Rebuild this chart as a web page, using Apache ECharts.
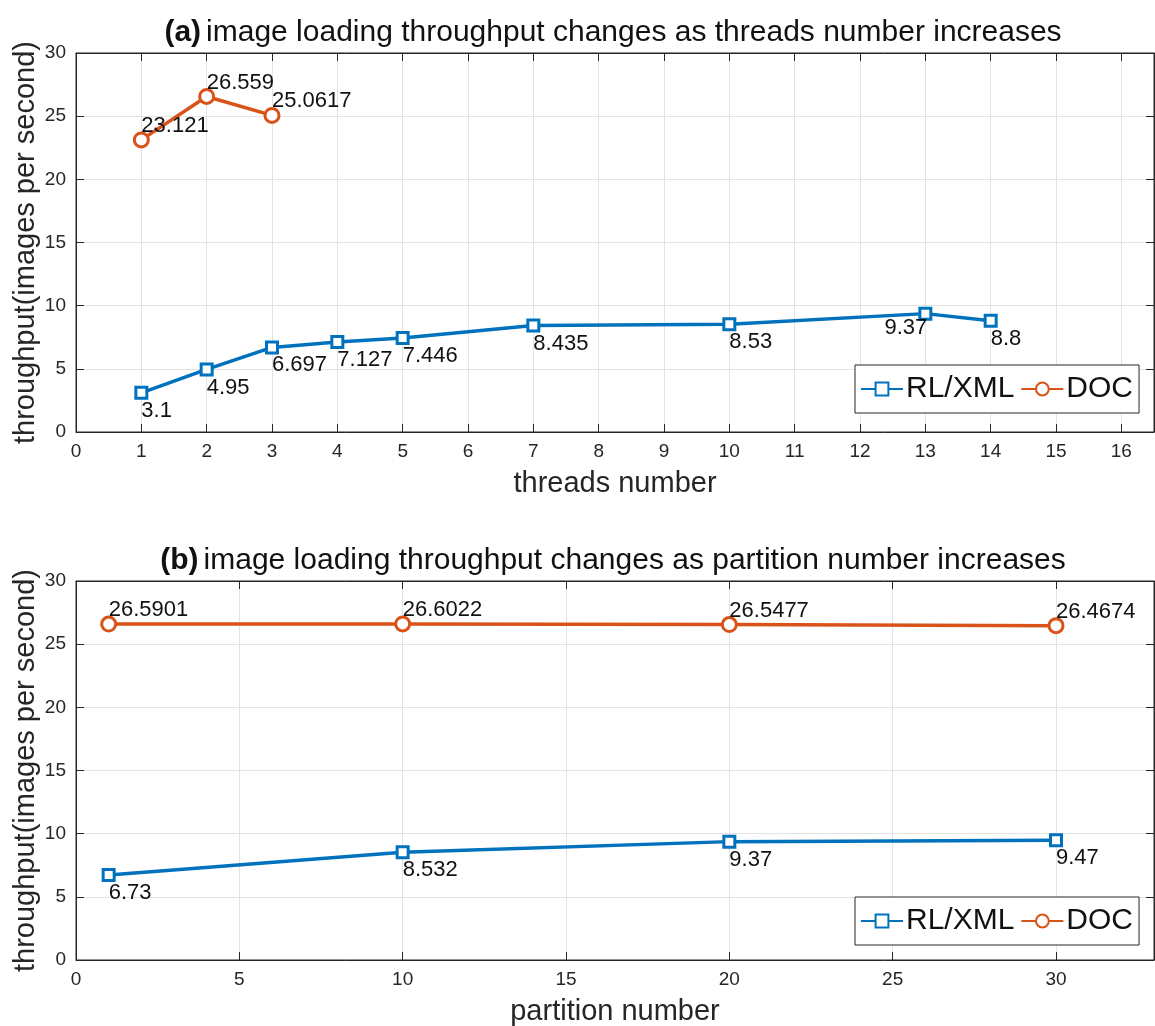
<!DOCTYPE html>
<html>
<head>
<meta charset="utf-8">
<script src="https://cdn.jsdelivr.net/npm/echarts@6/dist/echarts.min.js"></script>
<style>
html, body { margin: 0; padding: 0; background: #fff; }
#main { width: 1155px; height: 1026px; }
</style>
</head>
<body>
<div id="main"></div>
<script>
// (a) threads
var threadsRL = [1, 2, 3, 4, 5, 7, 10, 13, 14];
var valuesRL_a = [3.1, 4.95, 6.697, 7.127, 7.446, 8.435, 8.53, 9.37, 8.8];
var threadsDOC = [1, 2, 3];
var valuesDOC_a = [23.121, 26.559, 25.0617];

// (b) partitions
var partitions = [1, 10, 20, 30];
var valuesRL_b = [6.73, 8.532, 9.37, 9.47];
var valuesDOC_b = [26.5901, 26.6022, 26.5477, 26.4674];

var blue = '#0072BD';
var orange = '#D95319';
var axisCol = '#262626';
var font = 'Liberation Sans, Arial, sans-serif';

function pairs(xs, ys) {
	var out = [];
	for (var i = 0; i < xs.length; i++) {
		out.push([xs[i], ys[i]]);
	}
	return out;
}

// labels below right of the point, except a few put on the left
function blueData(xs, ys, leftIdx) {
	var d = pairs(xs, ys);
	return d.map(function(p, i) {
		var left = leftIdx.indexOf(i) >= 0;
		return {
			value: p,
			label: { align: left ? 'right' : 'left', offset: left ? [2, 14] : [0, 18] }
		};
	});
}

function xAx(gi, min, max, interval, name, top) {
	return {
		type: 'value', gridIndex: gi, min: min, max: max, interval: interval,
		position: top ? 'top' : 'bottom',
		name: top ? '' : name, nameLocation: 'middle', nameGap: 37,
		nameMoveOverlap: false,
		nameTextStyle: { fontSize: 29, color: axisCol, fontFamily: font },
		axisLine: { show: true, onZero: false, lineStyle: { color: axisCol, width: 1 } },
		axisTick: { show: true, inside: true, length: 8, lineStyle: { color: axisCol } },
		axisLabel: { show: !top, fontSize: 19, color: axisCol, fontFamily: font, margin: 10,
			showMaxLabel: false, formatter: function(v) { return v; } },
		splitLine: { show: !top, lineStyle: { color: '#e3e3e3', width: 1 } }
	};
}

function yAx(gi, right) {
	return {
		type: 'value', gridIndex: gi, min: 0, max: 30, interval: 5,
		position: right ? 'right' : 'left',
		name: right ? '' : 'throughput(images per second)', nameLocation: 'middle', nameGap: 36,
		nameMoveOverlap: false,
		nameTextStyle: { fontSize: 29, color: axisCol, fontFamily: font },
		axisLine: { show: true, onZero: false, lineStyle: { color: axisCol, width: 1 } },
		axisTick: { show: true, inside: true, length: 8, lineStyle: { color: axisCol } },
		axisLabel: { show: !right, fontSize: 19, color: axisCol, fontFamily: font, margin: 10 },
		splitLine: { show: !right, lineStyle: { color: '#e3e3e3', width: 1 } }
	};
}

function lineSeries(name, color, symbol, size, xi, yi, data, labelOffset) {
	return {
		name: name, type: 'line', xAxisIndex: xi, yAxisIndex: yi,
		data: data,
		color: color,
		symbol: symbol, symbolSize: size,
		showAllSymbol: true,
		lineStyle: { width: 3.5, color: color },
		itemStyle: { color: '#fff', borderColor: color, borderWidth: 3 },
		label: {
			show: true, position: 'inside', align: 'left', offset: labelOffset,
			fontSize: 22, color: '#111', fontFamily: font,
			formatter: function(p) { return p.value[1]; }
		},
		emphasis: { disabled: true },
		z: 3
	};
}

function legendAt(top) {
	return {
		left: 855, top: top, orient: 'horizontal',
		data: ['RL/XML', 'DOC'],
		backgroundColor: '#fff', borderColor: axisCol, borderWidth: 1,
		padding: [9, 6, 9, 5], itemGap: 6, itemWidth: 42, itemHeight: 16,
		textStyle: { fontSize: 30, color: '#111', fontFamily: font, padding: [0, 0, 0, -2] }
	};
}

var titleRich = {
	b: { fontSize: 30, fontWeight: 'bold', color: '#111', fontFamily: font },
	n: { fontSize: 30, fontWeight: 'normal', color: '#111', fontFamily: font }
};

var myChart = echarts.init(document.getElementById('main'));
var option = {
	animation: false,
	backgroundColor: '#fff',
	title: [{
		text: '{b|(a)} {n|image loading throughput changes as threads number increases}',
		left: 608, top: 13, textAlign: 'center',
		textStyle: { rich: titleRich }
	}, {
		text: '{b|(b)} {n|image loading throughput changes as partition number increases}',
		left: 608, top: 541, textAlign: 'center',
		textStyle: { rich: titleRich }
	}],
	legend: [legendAt(365), legendAt(897)],
	grid: [
		{ left: 76, top: 53, width: 1078, height: 379, show: true, borderColor: axisCol, borderWidth: 1,
			outerBoundsMode: 'none', containLabel: false },
		{ left: 76, top: 581, width: 1078, height: 379, show: true, borderColor: axisCol, borderWidth: 1,
			outerBoundsMode: 'none', containLabel: false }
	],
	xAxis: [
		xAx(0, 0, 16.5, 1, 'threads number', false),
		xAx(0, 0, 16.5, 1, '', true),
		xAx(1, 0, 33, 5, 'partition number', false),
		xAx(1, 0, 33, 5, '', true)
	],
	yAxis: [yAx(0, false), yAx(0, true), yAx(1, false), yAx(1, true)],
	series: [
		lineSeries('RL/XML', blue, 'rect', 11, 0, 0, blueData(threadsRL, valuesRL_a, [7]), [0, 18]),
		lineSeries('DOC', orange, 'circle', 14, 0, 0, pairs(threadsDOC, valuesDOC_a), [0, -14]),
		lineSeries('RL/XML', blue, 'rect', 11, 2, 2, blueData(partitions, valuesRL_b, []), [0, 18]),
		lineSeries('DOC', orange, 'circle', 14, 2, 2, pairs(partitions, valuesDOC_b), [0, -14])
	]
};
myChart.setOption(option);
</script>
</body>
</html>
